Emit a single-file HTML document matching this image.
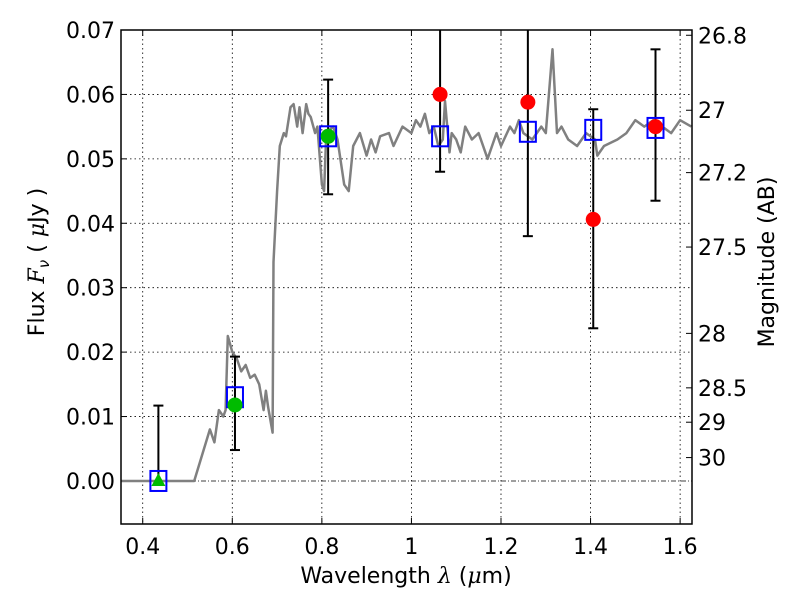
<!DOCTYPE html>
<html><head><meta charset="utf-8"><style>
body{margin:0;background:#fff;}
svg{display:block;font-family:"DejaVu Sans","Liberation Sans",sans-serif;}
</style></head><body>
<svg id="chart" width="800" height="600"></svg>
<script>
const specX=[0.35,0.515,0.55,0.56,0.57,0.58,0.585,0.59,0.6,0.61,0.62,0.63,0.64,0.65,0.66,0.67,0.675,0.68,0.69,0.692,0.70,0.706,0.715,0.72,0.73,0.737,0.745,0.75,0.757,0.765,0.77,0.775,0.785,0.79,0.8,0.805,0.81,0.825,0.835,0.85,0.86,0.87,0.885,0.9,0.91,0.92,0.93,0.95,0.96,0.98,1.0,1.01,1.02,1.03,1.04,1.05,1.06,1.07,1.075,1.085,1.09,1.1,1.11,1.12,1.135,1.15,1.17,1.19,1.2,1.22,1.23,1.24,1.25,1.27,1.29,1.3,1.315,1.325,1.335,1.35,1.37,1.39,1.41,1.415,1.43,1.46,1.48,1.5,1.52,1.54,1.56,1.58,1.6,1.625];
const specY=[0,0,0.008,0.006,0.011,0.010,0.011,0.0225,0.020,0.019,0.017,0.018,0.016,0.0165,0.015,0.011,0.014,0.0115,0.0075,0.034,0.045,0.052,0.054,0.0535,0.058,0.0585,0.055,0.058,0.054,0.0585,0.057,0.0565,0.054,0.055,0.046,0.045,0.054,0.055,0.053,0.046,0.045,0.052,0.054,0.0505,0.053,0.051,0.0535,0.054,0.052,0.055,0.054,0.056,0.055,0.057,0.054,0.055,0.052,0.053,0.059,0.051,0.054,0.053,0.051,0.055,0.053,0.054,0.050,0.054,0.052,0.055,0.054,0.056,0.054,0.053,0.055,0.054,0.067,0.054,0.055,0.053,0.052,0.054,0.053,0.0505,0.052,0.053,0.054,0.056,0.055,0.056,0.055,0.054,0.056,0.055];
const modelX=[0.435,0.606,0.814,1.064,1.26,1.406,1.545];
const modelY=[0,0.013,0.0535,0.0535,0.0542,0.0545,0.0548];
const obsX=[0.435,0.606,0.814,1.064,1.26,1.406,1.545];
const obsY=[0,0.0118,0.0535,0.060,0.0588,0.0406,0.055];
const obsLo=[0,0.0048,0.0445,0.048,0.038,0.0237,0.0435];
const obsHi=[0.0117,0.0193,0.0623,0.09,0.09,0.0577,0.067];
const obsKind=['tri','green','green','red','red','red','red'];
const xTicks=[0.4,0.6,0.8,1,1.2,1.4,1.6];
const xTickLabels=['0.4','0.6','0.8','1','1.2','1.4','1.6'];
const yTicks=[0,0.01,0.02,0.03,0.04,0.05,0.06,0.07];
const yTickLabels=['0.00','0.01','0.02','0.03','0.04','0.05','0.06','0.07'];
const magTicks=[26.8,27,27.2,27.5,28,28.5,29,30];
const magLabels=['26.8','27','27.2','27.5','28','28.5','29','30'];

const L=121,R=692,T=30,B=524;
const xmin=0.3515,xmax=1.6265,ymin=-0.00668,ymax=0.07;
const sx=v=>L+(v-xmin)/(xmax-xmin)*(R-L);
const sy=v=>B-(v-ymin)/(ymax-ymin)*(B-T);
const NS='http://www.w3.org/2000/svg';
const svg=document.getElementById('chart');
function mk(t,a,p){const e=document.createElementNS(NS,t);for(const k in a)e.setAttribute(k,a[k]);(p||svg).appendChild(e);return e;}
const FS=22;
const defs=mk('defs',{});const cp=mk('clipPath',{id:'cp'},defs);mk('rect',{x:L,y:T,width:R-L,height:B-T},cp);
xTicks.forEach((v,i)=>{
  let g=mk('line',{x1:sx(v),x2:sx(v),y1:T,y2:B,stroke:'#000','stroke-width':0.8,'stroke-dasharray':'1.5,3'});
  
  mk('line',{x1:sx(v),x2:sx(v),y1:B,y2:B-6,stroke:'#000'});mk('line',{x1:sx(v),x2:sx(v),y1:T,y2:T+6,stroke:'#000'});
  let t=mk('text',{x:sx(v),y:B+30,'text-anchor':'middle','font-size':FS});t.textContent=xTickLabels[i];
  
});
yTicks.forEach((v,i)=>{
  if(v>0&&v<0.07){let g=mk('line',{x1:L,x2:R,y1:sy(v),y2:sy(v),stroke:'#000','stroke-width':0.8,'stroke-dasharray':'1.5,3'});
  }
  mk('line',{x1:L,x2:L+6,y1:sy(v),y2:sy(v),stroke:'#000'});
  let t=mk('text',{x:L-6,y:sy(v)+8,'text-anchor':'end','font-size':FS});t.textContent=yTickLabels[i];
  
});
let z=mk('line',{x1:L,x2:R,y1:sy(0),y2:sy(0),stroke:'#000','stroke-width':0.8,'stroke-dasharray':'5,2,1,2'});

magTicks.forEach((m,i)=>{
  const f=Math.pow(10,(23.9-m)/2.5);
  mk('line',{x1:R,x2:R-6,y1:sy(f),y2:sy(f),stroke:'#000'});
  let t=mk('text',{x:R+6,y:sy(f)+8,'font-size':FS});t.textContent=magLabels[i];
  
});
const g=mk('g',{'clip-path':'url(#cp)'});
let pts=specX.map((x,i)=>sx(x).toFixed(1)+','+sy(specY[i]).toFixed(1)).join(' ');
let sp=mk('polyline',{points:pts,fill:'none',stroke:'#808080','stroke-width':2.5,'stroke-linejoin':'round'},g);

obsX.forEach((x,i)=>{
  const X=sx(x);
  let e=mk('line',{x1:X,x2:X,y1:sy(obsLo[i]),y2:sy(obsHi[i]),stroke:'#000','stroke-width':2},g);
  
  [obsLo[i],obsHi[i]].forEach(v=>{if(i>0||v>0)mk('line',{x1:X-5,x2:X+5,y1:sy(v),y2:sy(v),stroke:'#000','stroke-width':2},g);});
});
modelX.forEach((x,i)=>{
  let s=mk('rect',{x:sx(x)-8,y:sy(modelY[i])-10,width:16,height:20,fill:'none',stroke:'#0000ff','stroke-width':2},g);
  
});
obsX.forEach((x,i)=>{
  const X=sx(x),Y=sy(obsY[i]);let m;
  if(obsKind[i]==='tri'){m=mk('polygon',{points:`${X},${Y-8} ${X-7},${Y+5} ${X+7},${Y+5}`,fill:'#00bb00'},g);}
  else m=mk('circle',{cx:X,cy:Y,r:7.5,fill:obsKind[i]==='red'?'#ff0000':'#00bb00'},g);
  
});
let fr=mk('rect',{x:L,y:T,width:R-L,height:B-T,fill:'none',stroke:'#000','stroke-width':1.5});

let xl=mk('text',{x:406,y:583,'text-anchor':'middle','font-size':FS});
xl.innerHTML='Wavelength  <tspan font-style="italic" font-family="DejaVu Serif">λ</tspan> (<tspan font-style="italic" font-family="DejaVu Serif">μ</tspan>m)';

let yl=mk('text',{x:0,y:0,'text-anchor':'middle','font-size':FS,transform:'translate(44,262) rotate(-90)'});
yl.innerHTML='Flux  <tspan font-style="italic" font-family="DejaVu Serif">F</tspan><tspan font-style="italic" font-size="15" dy="5">ν</tspan><tspan dy="-5">  (  </tspan><tspan font-style="italic" font-family="DejaVu Serif">μ</tspan>Jy )';

let yr=mk('text',{x:0,y:0,'text-anchor':'middle','font-size':FS,transform:'translate(774,262) rotate(-90)'});
yr.textContent='Magnitude (AB)';

</script>
</body></html>
